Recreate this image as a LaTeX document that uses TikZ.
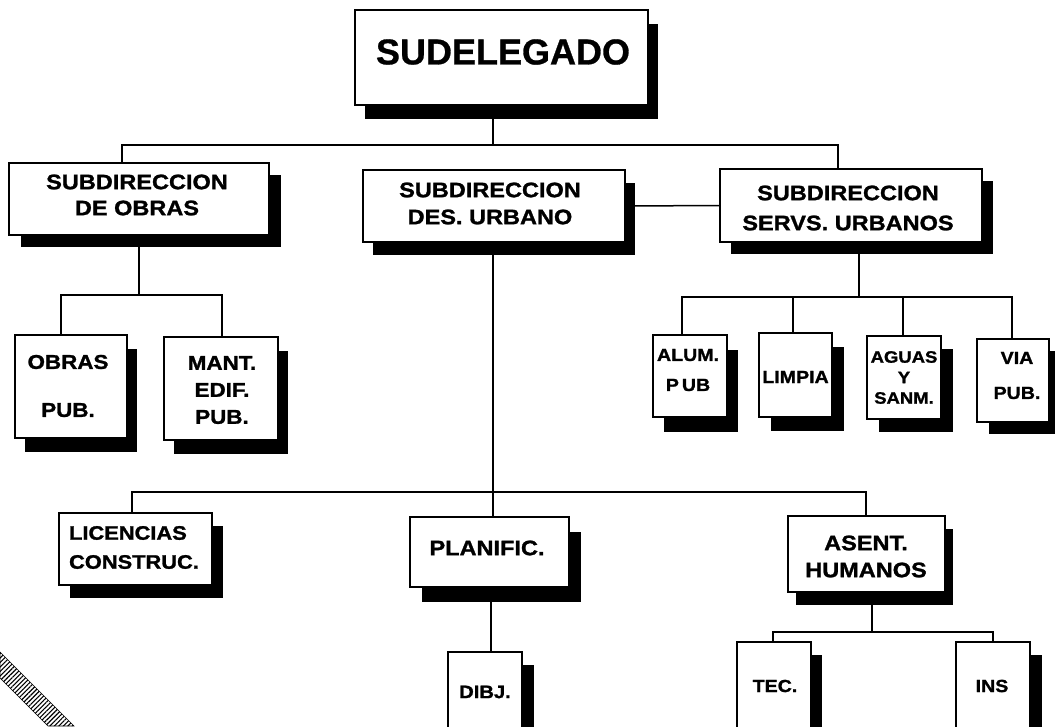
\documentclass[tikz,border=0pt]{standalone}
\usepackage{fontspec}
\setmainfont{Liberation Sans}
\newfontfamily\plainf{Liberation Sans}[BoldFeatures={FakeBold=0.8}]
\newfontfamily\widef{Liberation Sans}[FakeStretch=1.12,BoldFeatures={FakeBold=1.3}]
\usetikzlibrary{shadows,patterns.meta}
\begin{document}
\begin{tikzpicture}[x=1pt,y=-1pt,
  link/.style={line width=1.5pt},
  shad/.style 2 args={general shadow={fill=black,shadow xshift=#1pt,shadow yshift=-#2pt}},
  orgbox/.style={draw,line width=1.5pt,fill=white,inner sep=0pt},
  txt/.style={inner sep=0pt,align=center},
  fbig/.style={font=\widef\bfseries\fontsize{21}{26}\selectfont},
  fmid/.style={font=\widef\bfseries\fontsize{20}{27}\selectfont},
  fsmall/.style={font=\widef\bfseries\fontsize{17.5}{21}\selectfont}
]
\useasboundingbox (0,0) rectangle (1055,726);
\clip (0,0) rectangle (1055,726);
\fill[white] (0,0) rectangle (1055,726);

% boxes
\node[orgbox,shad={10}{14},minimum width=293pt,minimum height=95pt] (top) at (501.5,57.5) {};
\node[orgbox,shad={12}{12},minimum width=260pt,minimum height=72pt] (subobras) at (139,199) {};
\node[orgbox,shad={10}{13},minimum width=262pt,minimum height=72pt] (desurb) at (494,206) {};
\node[orgbox,shad={11}{12},minimum width=262pt,minimum height=73pt] (servs) at (851,205.5) {};
\node[orgbox,shad={10}{14},minimum width=112pt,minimum height=103pt] (obraspub) at (71,386.5) {};
\node[orgbox,shad={10}{14},minimum width=114pt,minimum height=103pt] (mant) at (221,388.5) {};
\node[orgbox,shad={11}{15},minimum width=74pt,minimum height=82pt] (alum) at (690,376) {};
\node[orgbox,shad={12}{14},minimum width=73pt,minimum height=84pt] (limpia) at (795.5,375) {};
\node[orgbox,shad={12}{13},minimum width=74pt,minimum height=83pt] (aguas) at (904,377.5) {};
\node[orgbox,shad={12}{12},minimum width=72pt,minimum height=83pt] (via) at (1013,380.5) {};
\node[orgbox,shad={11}{13},minimum width=153pt,minimum height=72pt] (lic) at (135.5,549) {};
\node[orgbox,shad={12}{15},minimum width=159pt,minimum height=70pt] (plan) at (489.5,552) {};
\node[orgbox,shad={8}{13},minimum width=157pt,minimum height=76pt] (asent) at (866.5,554) {};
\node[orgbox,shad={12}{13},minimum width=74pt,minimum height=96pt] (dibj) at (485,700) {};
\node[orgbox,shad={11}{13},minimum width=74pt,minimum height=110pt] (tec) at (774,697) {};
\node[orgbox,shad={12}{13},minimum width=74pt,minimum height=110pt] (ins) at (993,697) {};

% texts
\node[txt,font=\plainf\bfseries\fontsize{36}{40}\selectfont] (topT) at (503,52) {SUDELEGADO};
\node[txt,fbig] (subobrasT) at (137,195) {SUBDIRECCION\\DE OBRAS};
\node[txt,font=\widef\bfseries\fontsize{21}{27}\selectfont] (desurbT) at (490,203.5) {SUBDIRECCION\\DES. URBANO};
\node[txt,font=\widef\bfseries\fontsize{21}{30}\selectfont] (servsT) at (848,208) {SUBDIRECCION\\SERVS. URBANOS};
\node[txt,font=\widef\bfseries\fontsize{20}{24}\selectfont] (obraspubT) at (68,386) {OBRAS\\[24pt]PUB.};
\node[txt,fmid] (mantT) at (222,390) {MANT.\\EDIF.\\PUB.};
\node[txt,font=\widef\bfseries\fontsize{17.5}{30}\selectfont] (alumT) at (688,370) {ALUM.\\P\kern3pt UB};
\node[txt,fsmall] (limpiaT) at (795.5,377) {LIMPIA};
\node[txt,font=\widef\bfseries\fontsize{16.5}{20.5}\selectfont] (aguasT) at (904,377.5) {AGUAS\\Y\\SANM.};
\node[txt,font=\widef\bfseries\fontsize{17.5}{35}\selectfont] (viaT) at (1017,375.5) {VIA\\PUB.};
\node[txt,align=left,font=\widef\bfseries\fontsize{19.5}{29}\selectfont] (licT) at (134,547.5) {LICENCIAS\\CONSTRUC.};
\node[txt,fbig] (planT) at (487,548) {PLANIFIC.};
\node[txt,font=\widef\bfseries\fontsize{21}{27}\selectfont] (asentT) at (866,556.5) {ASENT.\\HUMANOS};
\node[txt,font=\widef\bfseries\fontsize{18}{21}\selectfont] (dibjT) at (485,692) {DIBJ.};
\node[txt,fsmall] (tecT) at (775,686) {TEC.};
\node[txt,fsmall] (insT) at (992,686) {INS};

% bus coordinates
\coordinate (tl) at (122,145);
\coordinate (tr) at (838,145);
\coordinate (ol) at (61,295);
\coordinate (or) at (222,295);
\coordinate (sm) at (859,297);
\coordinate (sl) at (682,297);
\coordinate (sb) at (793,297);
\coordinate (sc) at (903,297);
\coordinate (sr) at (1012,297);
\coordinate (ll) at (132,492);
\coordinate (lm) at (493,492);
\coordinate (lr) at (866,492);
\coordinate (dm) at (491,620);
\coordinate (am) at (872,632);
\coordinate (al) at (773,632);
\coordinate (ar) at (993,632);

% connectors
\draw[link] (top.south -| lm) -- (tl -| lm);
\draw[link] (subobras.north -| tl) -- (tl) -- (tr) -- (servs.north -| tr);
\draw[link] (desurb.east) -- (servs.west);
\draw[link] (subobras.south) -- (subobras.south |- ol);
\draw[link] (obraspub.north -| ol) -- (ol) -- (or) -- (mant.north -| or);
\draw[link] (servs.south -| sm) -- (sm);
\draw[link] (alum.north -| sl) -- (sl) -- (sr) -- (via.north -| sr);
\draw[link] (sb) -- (limpia.north -| sb);
\draw[link] (sc) -- (aguas.north -| sc);
\draw[link] (desurb.south -| lm) -- (plan.north -| lm);
\draw[link] (lic.north -| ll) -- (ll) -- (lr) -- (asent.north -| lr);
\draw[link] (plan.south -| dm) -- (dibj.north -| dm);
\draw[link] (asent.south -| am) -- (am);
\draw[link] (tec.north -| al) -- (al) -- (ar) -- (ins.north -| ar);

% hatched band, bottom left corner
\path[draw,line width=0.6pt,pattern={Lines[angle=45,distance=3.2pt,line width=1.1pt]}]
  (0,652) -- (74,726) -- (48,726) -- (0,678) -- cycle;
\end{tikzpicture}
\end{document}
